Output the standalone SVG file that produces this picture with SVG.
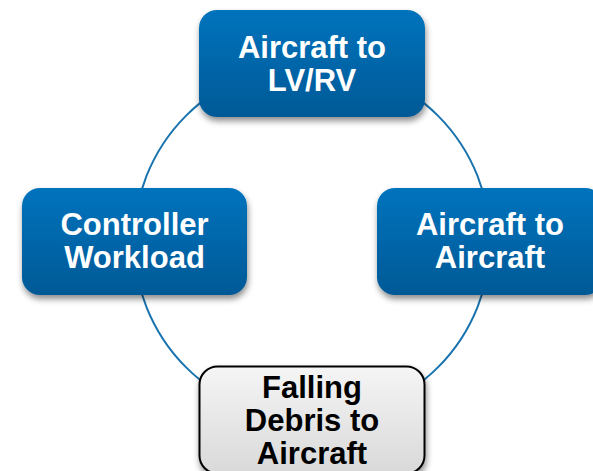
<svg xmlns="http://www.w3.org/2000/svg" width="593" height="471" viewBox="0 0 593 471">
  <defs>
    <linearGradient id="blueFill" x1="0" y1="0" x2="0" y2="1">
      <stop offset="0" stop-color="#0073bd"/>
      <stop offset="1" stop-color="#005996"/>
    </linearGradient>
    <linearGradient id="greyFill" x1="0" y1="0" x2="0" y2="1">
      <stop offset="0" stop-color="#f5f5f5"/>
      <stop offset="1" stop-color="#d9d9d9"/>
    </linearGradient>
    <filter id="shadow" x="-10%" y="-10%" width="125%" height="130%">
      <feDropShadow dx="1" dy="4" stdDeviation="3" flood-color="#000" flood-opacity="0.45"/>
    </filter>
  </defs>
  <style>
    .ring { fill: none; stroke: #1873ae; stroke-width: 2; }
    .box { fill: url(#blueFill); filter: url(#shadow); }
    .box-alt { fill: url(#greyFill); stroke: #000; stroke-width: 2; filter: url(#shadow); }
    .label { font-family: "Liberation Sans", Arial, sans-serif; font-weight: bold; font-size: 31px; text-anchor: middle; fill: #fff; }
    .label-dark { fill: #000; }
  </style>
  <rect width="593" height="471" fill="#fff"/>

  <!-- cycle ring linking the four nodes -->
  <g id="connectors">
    <circle class="ring" cx="312" cy="241.5" r="178"/>
  </g>

  <g id="node-lvrv">
    <rect class="box" x="199" y="10" width="226" height="107" rx="18"/>
    <text class="label" x="312" y="57.5">Aircraft to</text>
    <text class="label" x="312" y="90.5">LV/RV</text>
  </g>

  <g id="node-workload">
    <rect class="box" x="22" y="188" width="225" height="107" rx="18"/>
    <text class="label" x="134.5" y="235">Controller</text>
    <text class="label" x="134.5" y="267.5">Workload</text>
  </g>

  <g id="node-aircraft">
    <rect class="box" x="377" y="188" width="226" height="107" rx="18"/>
    <text class="label" x="490" y="235">Aircraft to</text>
    <text class="label" x="490" y="267.5">Aircraft</text>
  </g>

  <g id="node-debris">
    <rect class="box-alt" x="199.5" y="366.5" width="225" height="107" rx="18"/>
    <text class="label label-dark" x="312" y="397.5">Falling</text>
    <text class="label label-dark" x="312" y="430.5">Debris to</text>
    <text class="label label-dark" x="312" y="463.5">Aircraft</text>
  </g>
</svg>
